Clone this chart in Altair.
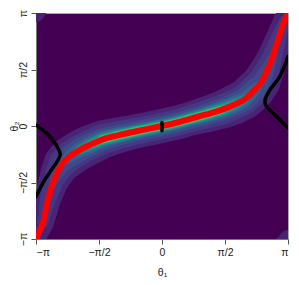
import math
import pandas as pd
import altair as alt

PI = math.pi

# Red curve (theta1, theta2)
curve_t1 = [-3.1416, -3.06, -2.97, -2.85, -2.72, -2.60, -2.48, -2.31, -2.06, -1.81, -1.48, -1.10, -0.70, -0.35, 0.0,
            0.35, 0.70, 1.10, 1.48, 1.81, 2.06, 2.31, 2.48, 2.64, 2.77, 2.89, 3.06, 3.1416]
curve_t2 = [-3.1416, -2.93, -2.70, -2.06, -1.58, -1.27, -1.04, -0.85, -0.67, -0.53, -0.37, -0.26, -0.16, -0.08, 0.0,
            0.09, 0.20, 0.32, 0.45, 0.60, 0.74, 1.00, 1.23, 1.60, 1.97, 2.39, 2.95, 3.1416]

# Density band levels: colour and band width (px) at each curve point
band_colors = ["#482475", "#453781", "#3e4a89", "#33638d", "#26828e", "#1f9e89", "#3bbb75"]
band_w1 = [18, 20, 22, 26, 30, 34, 38, 40, 40, 40, 38, 36, 34, 34, 34, 34, 34, 36, 38, 40, 40, 40, 38, 34, 30, 26, 22, 18]
band_w2 = [0, 0, 10, 16, 20, 24, 28, 30, 30, 30, 30, 28, 27, 26, 26, 26, 27, 28, 30, 30, 30, 30, 28, 24, 20, 16, 10, 0]
band_w3 = [0, 0, 0, 0, 8, 14, 18, 22, 23, 23, 22, 21, 20, 20, 20, 20, 20, 21, 22, 23, 23, 22, 18, 14, 8, 0, 0, 0]
band_w4 = [0, 0, 0, 0, 0, 0, 6, 12, 15, 17, 17, 16, 15, 15, 15, 15, 15, 16, 17, 17, 15, 12, 6, 0, 0, 0, 0, 0]
band_w5 = [0, 0, 0, 0, 0, 0, 0, 0, 9, 12, 13, 13, 12, 12, 12, 12, 12, 13, 13, 12, 9, 0, 0, 0, 0, 0, 0, 0]
band_w6 = [0, 0, 0, 0, 0, 0, 0, 0, 0, 8, 10, 10, 10, 10, 10, 10, 10, 10, 10, 8, 0, 0, 0, 0, 0, 0, 0, 0]
band_w7 = [0, 0, 0, 0, 0, 0, 0, 0, 0, 0, 8, 8.5, 8.5, 8, 8, 8, 8.5, 8.5, 8, 0, 0, 0, 0, 0, 0, 0, 0, 0]
band_widths = [band_w1, band_w2, band_w3, band_w4, band_w5, band_w6, band_w7]

# Black curves
left_t1 = [-3.1416, -2.89, -2.69, -2.57, -2.54, -2.64, -2.81, -2.97, -3.1416]
left_t2 = [0.03, -0.19, -0.44, -0.67, -0.81, -1.03, -1.31, -1.58, -1.97]
right_t1 = [3.1416, 2.94, 2.69, 2.57, 2.61, 2.78, 3.03, 3.1416]
right_t2 = [1.93, 1.38, 1.00, 0.72, 0.54, 0.35, 0.07, -0.06]
mid_t1 = [0.0, 0.0]
mid_t2 = [0.10, -0.13]

tick_vals = [-PI, -PI / 2, 0, PI / 2, PI]

W, H = 252, 226
xs = alt.Scale(domain=[-PI, PI], nice=False, zero=False)
ys = alt.Scale(domain=[-PI, PI], nice=False, zero=False)

label_expr = ("datum.value < -3 ? '\u2212\u03c0' : datum.value < -1 ? '\u2212\u03c0/2' : "
              "datum.value < 1 ? '0' : datum.value < 3 ? '\u03c0/2' : '\u03c0'")

FONT = "Liberation Sans"
x_axis = alt.Axis(values=tick_vals, labelExpr=label_expr, title="\u03b8\u2081", grid=False,
                  labelFont=FONT, labelFontSize=10.5, labelColor="#222", labelPadding=3,
                  tickColor="#555", tickSize=5, domainColor="#777",
                  titleFont=FONT, titleFontSize=10.5, titleFontWeight="normal", titleColor="#222",
                  titleX=W / 2, titleY=33, titleBaseline="middle", titleAlign="center")
y_axis = alt.Axis(values=tick_vals, labelExpr=label_expr, title="\u03b8\u2082", grid=False,
                  labelFont=FONT, labelFontSize=10.5, labelColor="#222", labelPadding=5,
                  labelAngle=-90, labelAlign="center", labelBaseline="alphabetic",
                  tickColor="#555", tickSize=5, domainColor="#777",
                  titleFont=FONT, titleFontSize=10.5, titleFontWeight="normal", titleColor="#222",
                  titleAngle=-90, titleX=-22, titleY=H / 2, titleBaseline="middle", titleAlign="center")

layers = []

# density bands as variable-width trails
for lvl, (col, widths) in enumerate(zip(band_colors, band_widths)):
    shifts = [(0, 0)]
    if lvl < 1:
        shifts += [(0, 2 * PI), (0, -2 * PI)]
    rows = []
    for c, (dx, dy) in enumerate(shifts):
        for i, (a, b, w) in enumerate(zip(curve_t1, curve_t2, widths)):
            rows.append({"t1": a + dx, "t2": b + dy, "w": w, "i": i, "copy": c})
    df = pd.DataFrame(rows)
    layers.append(
        alt.Chart(df).mark_trail(color=col, clip=True).encode(
            x=alt.X("t1:Q", scale=xs, axis=x_axis),
            y=alt.Y("t2:Q", scale=ys, axis=y_axis),
            size=alt.Size("w:Q", scale=None),
            order=alt.Order("i:Q"),
            detail="copy:N",
        )
    )

def line_layer(t1, t2, color, width, interp="linear"):
    df = pd.DataFrame({"t1": t1, "t2": t2, "i": list(range(len(t1)))})
    return alt.Chart(df).mark_line(color=color, strokeWidth=width, clip=True,
                                   interpolate=interp, strokeCap="round").encode(
        x=alt.X("t1:Q", scale=xs, axis=x_axis),
        y=alt.Y("t2:Q", scale=ys, axis=y_axis),
        order=alt.Order("i:Q"),
    )

layers.append(line_layer(curve_t1, curve_t2, "#ff0000", 6, "monotone"))
layers.append(line_layer(left_t1, left_t2, "#000000", 3.5, "cardinal"))
layers.append(line_layer(right_t1, right_t2, "#000000", 3.5, "cardinal"))
layers.append(line_layer(mid_t1, mid_t2, "#000000", 3.5))

chart = alt.layer(*layers).properties(
    width=W, height=H,
    autosize=alt.AutoSizeParams(type="none"),
    padding={"left": 28, "top": 5, "right": 3, "bottom": 38},
    background="white",
).configure_view(fill="#440154", stroke="#aaaaaa", strokeWidth=1)

chart.save("out.html", embed_options={"renderer": "svg", "actions": False})
